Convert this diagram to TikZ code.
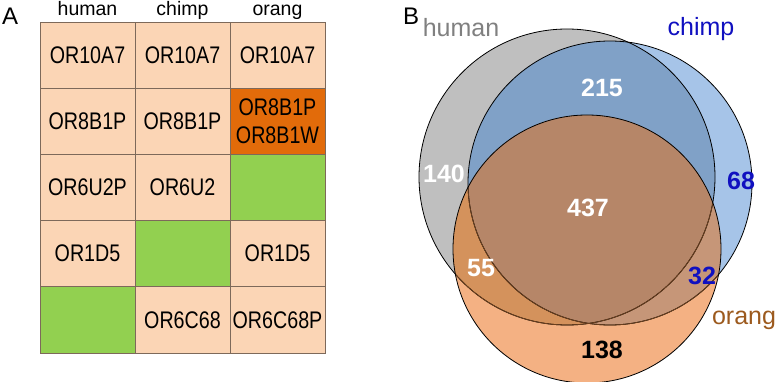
\documentclass[tikz,border=0pt]{standalone}
\usepackage{fontspec}
\setmainfont{Liberation Sans}
\newfontfamily\cellfont{Liberation Sans}[FakeStretch=0.82]
\usepackage{tikz}

\definecolor{peach}{RGB}{251,213,181}
\definecolor{darkorange}{RGB}{226,107,10}
\definecolor{leafgreen}{RGB}{146,208,80}
\definecolor{gridline}{RGB}{125,105,90}
\definecolor{humfill}{RGB}{191,191,191}
\definecolor{chifill}{RGB}{166,196,232}
\definecolor{hcfill}{RGB}{128,161,199}
\definecolor{orafill}{RGB}{244,177,131}
\definecolor{hofill}{RGB}{212,146,92}
\definecolor{cofill}{RGB}{198,150,120}
\definecolor{hcofill}{RGB}{182,134,104}
\definecolor{innerrim}{RGB}{107,63,29}
\definecolor{humtext}{RGB}{128,128,128}
\definecolor{chitext}{RGB}{16,16,192}
\definecolor{oratext}{RGB}{156,90,30}

\begin{document}
\begin{tikzpicture}[x=1pt,y=-1pt,
    cell/.style={draw=gridline,line width=0.7pt,fill=peach,minimum width=95pt,minimum height=66.2pt,
      inner sep=0pt,align=center,font=\cellfont\fontsize{24}{28}\selectfont},
    head/.style={anchor=base,inner sep=0pt,font=\fontsize{19.5}{22}\selectfont},
    panel/.style={anchor=base west,inner sep=0pt,font=\fontsize{24}{28}\selectfont},
    setname/.style={anchor=base,inner sep=0pt,font=\fontsize{25}{28}\selectfont},
    count/.style={anchor=base,inner sep=0pt,font=\bfseries\fontsize{25}{28}\selectfont},
    rim/.style={draw=black,line width=0.8pt}]
        \useasboundingbox (0,0) rectangle (777,382);

        \def\humx{567}
        \def\humy{177}
        \def\humr{148pt}
        \def\chix{610}
        \def\chiy{183}
        \def\chir{142pt}
        \def\orax{587}
        \def\oray{249}
        \def\orar{134pt}

        \node[panel] (pA) at (2,25) {A};
        \node[panel] (pB) at (403,25) {B};

        \node[head] (hhuman) at (87.5,16) {human};
        \node[head] (hchimp) at (182.5,16) {chimp};
        \node[head] (horang) at (277.5,16) {orang};

        \foreach \r/\c/\txt/\col in {1/1/OR10A7/peach,1/2/OR10A7/peach,1/3/OR10A7/peach,
                2/1/OR8B1P/peach,2/2/OR8B1P/peach,2/3/{OR8B1P\\OR8B1W}/darkorange,
                3/1/OR6U2P/peach,3/2/OR6U2/peach,3/3/{}/leafgreen,
                4/1/OR1D5/peach,4/2/{}/leafgreen,4/3/OR1D5/peach,
                5/1/{}/leafgreen,5/2/OR6C68/peach,5/3/OR6C68P/peach}
            \node[cell,fill=\col] (c\r\c) at ({87.5+95*(\c-1)},{55.1+66.2*(\r-1)}) {\txt};

        \coordinate (hum) at (\humx,\humy);
        \coordinate (chi) at (\chix,\chiy);
        \coordinate (ora) at (\orax,\oray);

        \fill[humfill] (hum) circle[radius=\humr];
        \fill[chifill] (chi) circle[radius=\chir];
        \begin{scope}
            \clip (hum) circle[radius=\humr];
            \fill[hcfill] (chi) circle[radius=\chir];
        \end{scope}
        \fill[orafill] (ora) circle[radius=\orar];
        \begin{scope}
            \clip (ora) circle[radius=\orar];
            \fill[hofill] (hum) circle[radius=\humr];
            \fill[cofill] (chi) circle[radius=\chir];
            \clip (hum) circle[radius=\humr];
            \fill[hcofill] (chi) circle[radius=\chir];
        \end{scope}

        \draw[rim] (hum) circle[radius=\humr];
        \draw[rim] (chi) circle[radius=\chir];
        \begin{scope}
            \clip (ora) circle[radius=\orar];
            \draw[rim,draw=innerrim] (hum) circle[radius=\humr];
            \draw[rim,draw=innerrim] (chi) circle[radius=\chir];
        \end{scope}
        \draw[rim] (ora) circle[radius=\orar];

        \node[setname,text=humtext] (lhuman) at (461,37) {human};
        \node[setname,text=chitext] (lchimp) at (701,36) {chimp};
        \node[setname,text=oratext] (lorang) at (744,325) {orang};

        \node[count,text=white] (n215) at (602,97) {215};
        \node[count,text=white] (n140) at (444,183) {140};
        \node[count,text=white] (n437) at (588,217) {437};
        \node[count,text=white] (n55) at (481,277) {55};
        \node[count,text=chitext] (n68) at (741,190) {68};
        \node[count,text=chitext] (n32) at (702,285) {32};
        \node[count,text=black] (n138) at (602,358) {138};
    \end{tikzpicture}
\end{document}
